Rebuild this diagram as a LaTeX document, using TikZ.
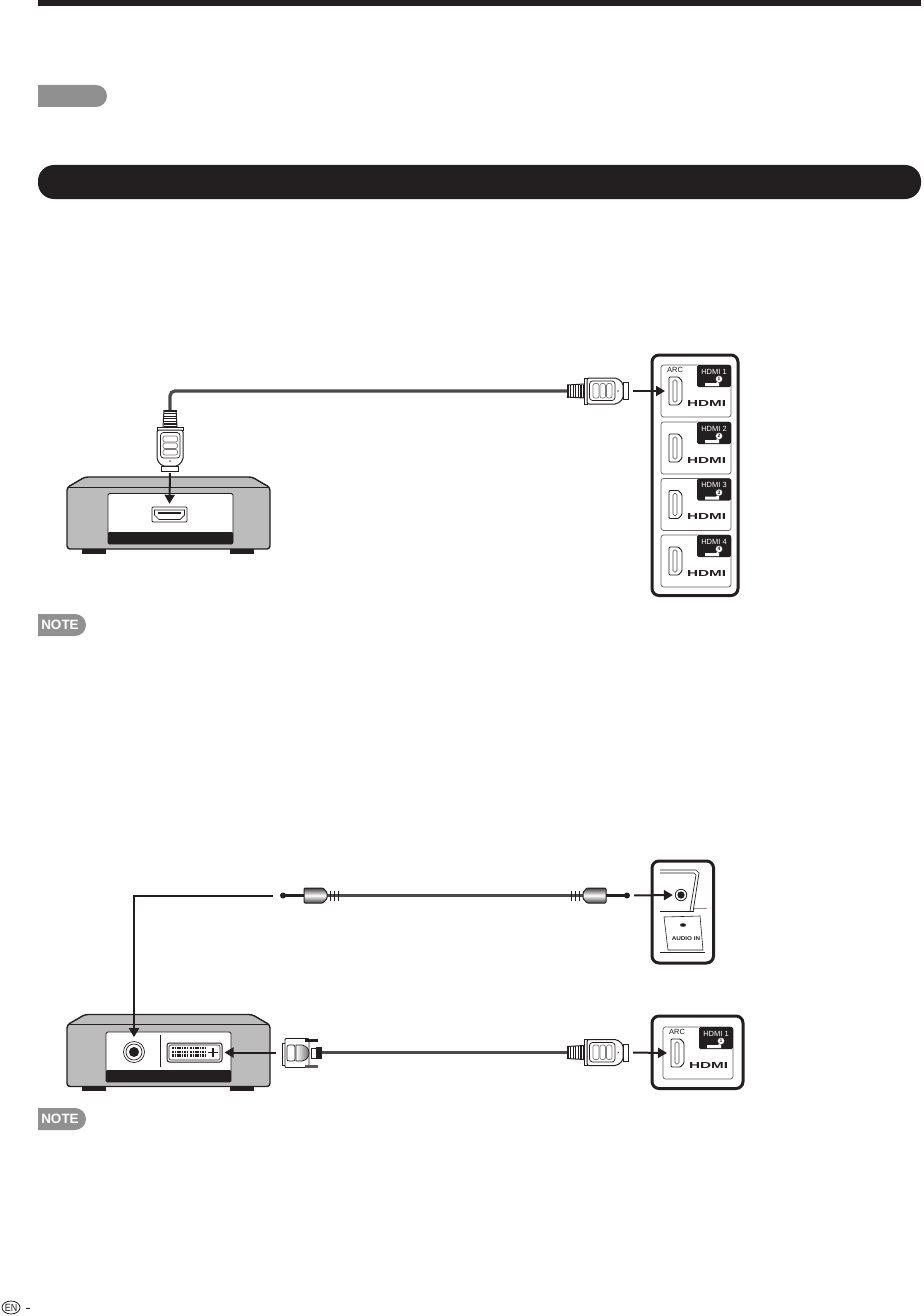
\documentclass[tikz,border=0pt]{standalone}
\usepackage{fontspec}
\usepackage{graphicx}
\setmainfont{Liberation Sans}
\usetikzlibrary{arrows.meta,calc,shapes.geometric}
\definecolor{ink}{HTML}{231F20}
\definecolor{tabgray}{HTML}{919091}
\definecolor{devgray}{HTML}{BCBCBC}
\definecolor{cablegray}{HTML}{4A4A4A}
\newcommand{\fs}[1]{\fontsize{#1}{#1}\selectfont}
\tikzset{
  x=1pt,y=-1pt,
  sig/.style={draw=ink,line width=2pt,-{Triangle[length=9pt,width=10pt]}},
  cable/.style={draw=cablegray,line width=3.2pt},
  audiocable/.style={draw=cablegray,line width=3.8pt},
  frame/.style={draw=ink,line width=3pt,fill=white,rounded corners=7pt},
  pics/hdmiplug/.style={code={
    \coordinate (-tail) at (0,0);
    \coordinate (-tip) at (61,0);
    \fill[white] (0,-6) -- (17,-7) -- (17,7) -- (0,6) -- cycle;
    \draw[ink,line width=1pt] (0,-6) -- (17,-7) (0,6) -- (17,7);
    \foreach \k in {1,3.6,6.2,8.8,11.4,14,16.2}{\draw[ink,line width=1.3pt] (\k,-6.5) -- (\k,6.5);}
    \draw[ink,line width=.7pt,fill=white] (17,-13) rectangle (20,13);
    \draw[ink,line width=1pt,fill=white,rounded corners=2pt] (20,-13) -- (50,-13) -- (56,-8) -- (56,8) -- (50,13) -- (20,13) -- cycle;
    \draw[ink,line width=.8pt,fill=white] (56,-8.5) rectangle (61,8.5);
    \draw[ink,line width=.7pt,rounded corners=3pt] (22.5,-10) rectangle (48,9.5);
    \draw[ink!60,line width=.7pt,rounded corners=2pt] (26,-7.5) rectangle (32,7);
    \draw[ink!60,line width=.7pt,rounded corners=2pt] (33,-7.5) rectangle (38.5,7);
    \draw[ink!60,line width=.7pt,rounded corners=2pt] (39.5,-7.5) rectangle (45,7);
    \fill[ink] (50.5,-1) -- (52,0) -- (50.5,1) -- cycle;
  }},
  pics/hdmiport/.style={code={
    \coordinate (-w) at (-6.5,0);
    \draw[ink,line width=.9pt,fill=white,rounded corners=1pt] (-6.5,-14) -- (3,-14) -- (6.5,-10) -- (6.5,10) -- (3,14) -- (-6.5,14) -- cycle;
    \draw[ink!80,line width=.6pt,rounded corners=1.5pt] (-2.5,-11) rectangle (1.5,11);
  }},
  pics/hdmicell/.style={code={
    \draw[ink!70,line width=.7pt,rounded corners=2.5pt,fill=white] (0,0) rectangle (70,52);
    \fill[ink,rounded corners=1.5pt] (36,0) -- (70,0) -- (70,22) -- (36,22) -- cycle;
    \node[text=white,inner sep=0pt,font=\fs{7.5}] (-lab) at (53,6.5) {HDMI #1};
    \fill[white] (44,18) -- (55,18) -- (58,15) -- (58,21) -- (44,21) -- cycle;
    \node[circle,fill=white,draw=ink,line width=.3pt,inner sep=0pt,minimum size=7pt,font=\fs{5}\bfseries,text=ink] (-num) at (58,14) {#1};
    \path (14.5,26) pic (-port) {hdmiport};
    \node[inner sep=0pt,text=ink] (-logo) at (45.5,38) {\resizebox{39pt}{6pt}{\bfseries HDMI}};
  }},
  pics/jackplug/.style={code={
    \coordinate (-tail) at (0,0);
    \coordinate (-tip) at (60,0);
    \draw[audiocable] (0,0) -- (14,0);
    \foreach \k in {1.5,5.5,9.5}{\draw[ink,line width=1.6pt] (\k,-5) -- (\k,5);}
    \shade[top color=ink!85,bottom color=ink!85,middle color=white,draw=ink,line width=1pt,rounded corners=1pt] (36,-7.5) -- (17,-7.5) -- (13,-3) -- (13,3) -- (17,7.5) -- (36,7.5) -- cycle;
    \draw[ink,line width=2.8pt] (36,0) -- (55,0);
    \fill[ink] (57,0) circle (3pt);
  }},
  pics/devicebody/.style={code={
    \draw[ink,line width=1.4pt,fill=devgray,rounded corners=3pt] (18,0) -- (185,0) -- (203,10.5) -- (203,72) -- (0,72) -- (0,10.5) -- cycle;
    \draw[ink,line width=.9pt] (2,10) -- (201,10);
    \fill[ink] (15,72) rectangle (39,76.5);
    \fill[ink] (163,72) rectangle (187,76.5);
  }}
}
\begin{document}
\begin{tikzpicture}
\useasboundingbox (0,0) rectangle (923,1316);
% page furniture
\fill[ink] (38,0) rectangle (921,6);
\fill[tabgray] (38,85) rectangle (96,107) (96,96) circle (11pt);
\fill[ink,rounded corners=16pt] (38,165) rectangle (921,199);

% first diagram ----------------------------------------------
\path (67,477) pic (dev1) {devicebody};
\draw[ink,line width=.8pt,fill=white,rounded corners=1.5pt] (108,493.5) rectangle (233,544);
\fill[ink,rounded corners=1pt] (108,532) -- (233,532) -- (233,544) -- (108,544) -- cycle;
\node[minimum width=35pt,minimum height=15pt,inner sep=0pt] (p1) at (169.5,514.5) {};
\fill[white,draw=ink,line width=.9pt,rounded corners=1pt] (152,507) rectangle (187,522);
\draw[ink,line width=.7pt] (154.5,510) -- (184.5,510) -- (184.5,515) -- (180,519.5) -- (159,519.5) -- (154.5,515) -- cycle;
\draw[ink,line width=1.4pt] (158,513) -- (181,513);

\path (170,410) pic[rotate=-90] (vplug) {hdmiplug};
\path (567,391) pic (hplug) {hdmiplug};
\draw[cable,rounded corners=5pt] (vplug-tail) |- (hplug-tail);
\draw[sig,shorten <=2pt] (vplug-tip) -- ([yshift=3pt]p1.north);

\draw[frame] (652,355) rectangle (738,595.5);
\path (661,365) pic (c1) {hdmicell={1}};
\path (661,422) pic (c2) {hdmicell={2}};
\path (661,478.5) pic (c3) {hdmicell={3}};
\path (661,535) pic (c4) {hdmicell={4}};
\node[inner sep=0pt,text=ink,font=\fs{7.5}] (arc1) at (675,370) {ARC};
\draw[sig,shorten <=5pt,shorten >=4pt] (hplug-tip) -- (c1-port-w);

\fill[tabgray] (38,614) rectangle (75,636) (75,625) circle (11pt);
\node[text=white,inner sep=0pt,font=\fs{13.5}\bfseries] (note1t) at (60,625) {NOTE};

% second diagram ---------------------------------------------
\path (67,1014.5) pic (dev2) {devicebody};
\draw[ink,line width=.8pt,fill=white,rounded corners=1.5pt] (106,1032) rectangle (231,1082);
\fill[ink,rounded corners=1pt] (106,1070) -- (231,1070) -- (231,1082) -- (106,1082) -- cycle;
\draw[ink,line width=.8pt] (160,1035) -- (160,1067);
\node[circle,draw=ink,line width=.7pt,fill=white,minimum size=21pt,inner sep=0pt] (j2) at (134,1052) {};
\draw[ink,line width=.7pt] (134,1052) circle (8pt);
\fill[ink] (134,1052) circle (5pt);
% DVI port
\node[draw=ink,line width=1pt,fill=white,rounded corners=2.5pt,minimum width=55pt,minimum height=19pt,inner sep=0pt] (dvi) at (194.5,1052.5) {};
\draw[ink,line width=.6pt,rounded corners=2pt] (169,1045) -- (220,1045) -- (220,1060) -- (169,1060) -- cycle;
\foreach \r in {1048.2,1051.8,1055.4}{
  \foreach \c in {173,175.4,177.8,180.2,182.6,185,187.4,191,193.4,195.8,198.2,200.6,203,205.4}{
    \fill[ink] (\c-.8,\r-1.2) rectangle (\c+.8,\r+1.2);
  }}
\draw[ink,line width=1.2pt] (208,1052.5) -- (218,1052.5) (213,1048) -- (213,1057);

% jack cable
\path (340,895.5) pic[xscale=-1] (jl) {jackplug};
\path (570,895.5) pic (jr) {jackplug};
\draw[audiocable] (jl-tail) -- (jr-tail);
\coordinate (jstart) at (273,895.5);
\draw[sig] (jstart) -| ([yshift=4pt]j2.north);

% audio panel
\draw[frame] (652,861) rectangle (713.5,963);
\node[circle,draw=ink,line width=.8pt,minimum size=11.5pt,inner sep=0pt,fill=white] (j1) at (681,895) {};
\fill[ink] (681,895) circle (3.6pt);
\draw[ink,line width=.7pt] (660,870) -- (696,870) -- (699,873) -- (693,912) (660,873) -- (694,873) -- (696,875) -- (690,911);
\draw[ink,line width=1pt] (660,911) -- (694,911);
\draw[ink!50,line width=.8pt] (694,908) -- (707,908);
\draw[ink,line width=.6pt] (664,917) -- (700,916) -- (703,950) -- (668,950) -- cycle;
\draw[ink,line width=1pt] (660,952.5) -- (705,952.5);
\fill[ink] (683,925) ellipse (3pt and 1.8pt);
\node[inner sep=0pt,text=ink,font=\fs{5.5}\bfseries] (ai) at (686,939) {\scalebox{1.15}[1]{AUDIO IN}};
\draw[sig,shorten <=4pt,shorten >=2pt] (jr-tip) -- (j1.west);

% HDMI panel 3
\draw[frame] (652,1016) rectangle (743,1088.5);
\path (663,1027) pic (c5) {hdmicell={1}};
\node[inner sep=0pt,text=ink,font=\fs{7.5}] (arc2) at (677,1032) {ARC};
\path (567,1052.5) pic (hplug2) {hdmiplug};
\draw[sig,shorten <=5pt,shorten >=4pt] (hplug2-tip) -- (c5-port-w);

% DVI plug
\coordinate (ds) at (276,1052.5);
\draw[ink,line width=.7pt,fill=white] (282,1043) rectangle (285,1065);
\draw[ink,line width=.8pt,fill=white,rounded corners=1pt] (285,1038.5) rectangle (309,1067.5);
\fill[ink] (305,1039) rectangle (318,1041.5);
\fill[ink!75] (305,1065) rectangle (318,1067.5);
\shade[left color=white,right color=ink!65] (296,1045) -- (302,1045) .. controls (307,1046) and (309,1049) .. (309,1053) .. controls (309,1057) and (307,1060) .. (302,1061) -- (296,1061) -- cycle;
\draw[ink,line width=.7pt] (296,1045) -- (302,1045) .. controls (307,1046) and (309,1049) .. (309,1053) .. controls (309,1057) and (307,1060) .. (302,1061) -- (296,1061) -- cycle;
\draw[ink,line width=.7pt,rounded corners=2pt] (287,1045) rectangle (295,1061);
\draw[ink,line width=.8pt,fill=white] (311,1048) rectangle (316,1058);
\node[fill=ink,inner sep=0pt,minimum width=6pt,minimum height=12pt] (dvit) at (319,1052.5) {};
\draw[cable] (dvit.east) -- (hplug2-tail);
\draw[sig] (ds) -- ([xshift=2pt]dvi.east);

\fill[tabgray] (38,1108) rectangle (75,1130) (75,1119) circle (11pt);
\node[text=white,inner sep=0pt,font=\fs{13.5}\bfseries] (note2t) at (60,1119) {NOTE};

% footer
\node[ellipse,draw=ink,line width=.8pt,inner sep=0pt,minimum width=18pt,minimum height=13pt,text=ink] (en) at (11,1307.5) {\fs{10.5}\scalebox{.85}[1]{EN}};
\draw[ink,line width=.8pt] (26,1308) -- (30,1308);
\end{tikzpicture}
\end{document}
